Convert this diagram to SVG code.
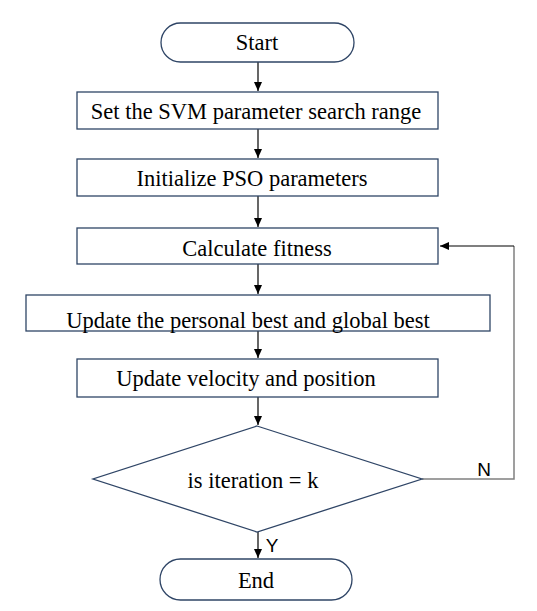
<svg xmlns="http://www.w3.org/2000/svg" width="537" height="611" viewBox="0 0 537 611">
<style>
.box{fill:#fff;stroke:#2f4566;stroke-width:1.3}
.t{font-family:"Times New Roman","Liberation Serif",serif;font-size:22.5px;fill:#000;text-anchor:middle;dominant-baseline:central}
.s{font-family:"Liberation Sans",Arial,sans-serif;font-size:19px;fill:#000;text-anchor:middle;dominant-baseline:central}
.c{fill:none;stroke:#000;stroke-width:1.2}
.g{fill:none;stroke:#808080;stroke-width:1.5}
</style>
<defs>
<marker id="ah" markerWidth="10" markerHeight="8" refX="9" refY="4" orient="auto" markerUnits="userSpaceOnUse">
<path d="M0,0 L9,4 L0,8 Z" fill="#000"/>
</marker>
</defs>
<rect width="537" height="611" fill="#fff"/>
<g id="connectors">
<line class="c" x1="258" y1="62" x2="258" y2="91" marker-end="url(#ah)"/>
<line class="c" x1="258" y1="129" x2="258" y2="158" marker-end="url(#ah)"/>
<line class="c" x1="258" y1="196" x2="258" y2="227" marker-end="url(#ah)"/>
<line class="c" x1="258" y1="264" x2="258" y2="294" marker-end="url(#ah)"/>
<line class="c" x1="258" y1="331" x2="258" y2="358" marker-end="url(#ah)"/>
<line class="c" x1="258" y1="397" x2="258" y2="425" marker-end="url(#ah)"/>
<line class="c" x1="258" y1="532" x2="258" y2="558" marker-end="url(#ah)"/>
<polyline class="g" points="422,479 514,479 514,246"/>
<line class="c" x1="514" y1="246" x2="440" y2="246" marker-end="url(#ah)"/>
<text class="s" x="484" y="469">N</text>
<text class="s" x="272" y="545">Y</text>
</g>
<g id="start">
<rect class="box" x="161" y="23" width="193" height="39" rx="19.5"/>
<text class="t" x="257" y="42">Start</text>
</g>
<g id="set-range">
<rect class="box" x="77" y="92" width="361" height="37"/>
<text class="t" x="256" y="111">Set the SVM parameter search range</text>
</g>
<g id="init-pso">
<rect class="box" x="77" y="159" width="361" height="37"/>
<text class="t" x="252" y="178">Initialize PSO parameters</text>
</g>
<g id="fitness">
<rect class="box" x="77" y="228" width="361" height="36"/>
<text class="t" x="257" y="248">Calculate fitness</text>
</g>
<g id="update-best">
<rect class="box" x="26" y="295" width="464" height="36"/>
<text class="t" x="248" y="320">Update the personal best and global best</text>
</g>
<g id="update-vel">
<rect class="box" x="77" y="359" width="361" height="38"/>
<text class="t" x="246" y="378">Update velocity and position</text>
</g>
<g id="decision">
<polygon class="box" points="257,426 422,479 257,532 93,479"/>
<text class="t" x="253" y="480">is iteration = k</text>
</g>
<g id="end">
<rect class="box" x="160" y="559" width="192" height="41" rx="20.5"/>
<text class="t" x="256" y="580">End</text>
</g>
</svg>
